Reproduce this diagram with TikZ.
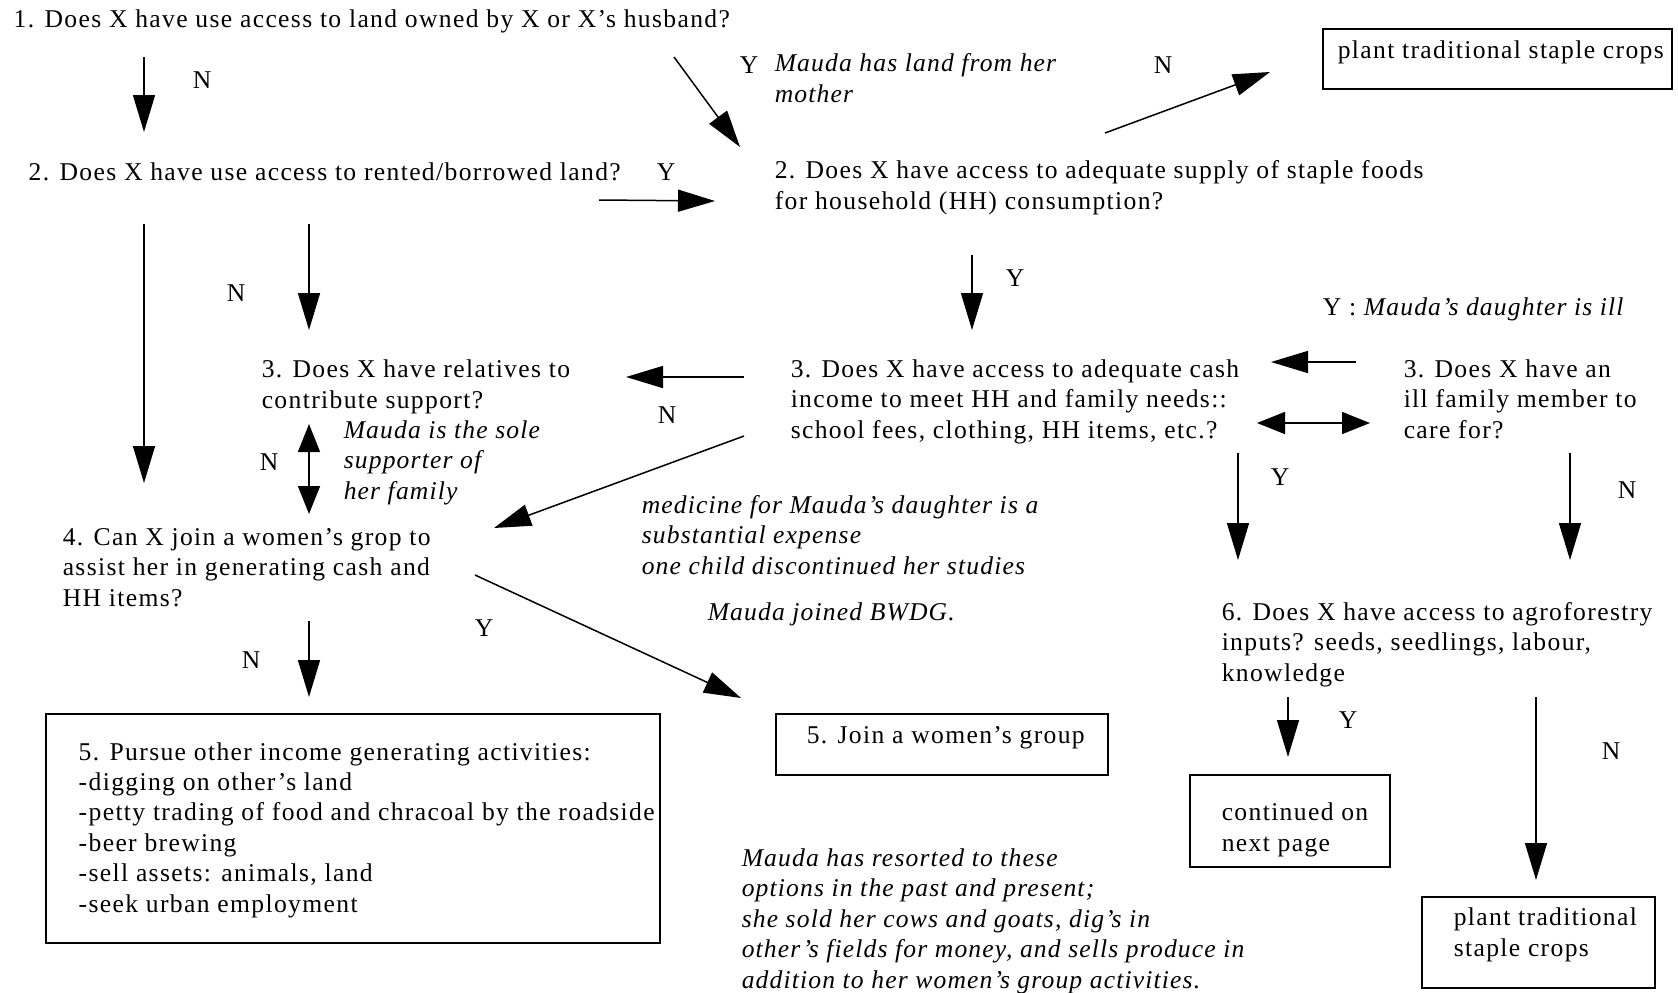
\documentclass[tikz,border=0pt]{standalone}
\usepackage{fontspec}
\setmainfont{Liberation Serif}[LetterSpace=5.3, ItalicFeatures={LetterSpace=4.5}]
\usetikzlibrary{arrows.meta}

\begin{document}
\begin{tikzpicture}[x=0.5pt, y=-0.5pt, line width=0.75pt,
    every node/.style={font=\fontsize{12.8}{15.2}\selectfont, inner sep=0pt},
    txt/.style={anchor=base west, align=left},
    note/.style={txt, font=\fontsize{12.8}{15.2}\selectfont\itshape},
    box/.style={draw, line width=1pt, anchor=north west},
    arr/.style={-{Triangle[length=18.5pt, width=11pt]}},
    darr/.style={{Triangle[length=14pt, width=11pt]}-{Triangle[length=14pt, width=11pt]}}]
  \useasboundingbox (0,0) rectangle (1678,992);

  % Draw the questions (multi-line texts sit on their last line)
  \node[txt] (q1) at (13,27) {1. Does X have use access to land owned by X or X's husband?};
  \node[txt] (q2left) at (28,180) {2. Does X have use access to rented/borrowed land?};
  \node[txt] (q2food) at (774,209) {2. Does X have access to adequate supply of staple foods\\for household (HH) consumption?};
  \node[txt] (q3rel) at (261,408) {3. Does X have relatives to\\contribute support?};
  \node[txt] (q3cash) at (790,438) {3. Does X have access to adequate cash\\income to meet HH and family needs::\\school fees, clothing, HH items, etc.?};
  \node[txt] (q3ill) at (1403,438) {3. Does X have an\\ill family member to\\care for?};
  \node[txt] (q4) at (62,606) {4. Can X join a women's grop to\\assist her in generating cash and\\HH items?};
  \node[txt] (q6) at (1221,681) {6. Does X have access to agroforestry\\inputs? seeds, seedlings, labour,\\knowledge};

  % Draw the boxes
  \node[box, minimum width=174.5pt, minimum height=30pt] (plantA) at (1322,28) {};
  \node[txt] (plantAtext) at (1337,58) {plant traditional staple crops};
  \node[box, minimum width=307pt, minimum height=114.5pt] (pursue) at (45,713) {};
  \node[txt] (pursuetext) at (78,912) {5. Pursue other income generating activities:\\-digging on other's land\\-petty trading of food and chracoal by the roadside\\-beer brewing\\-sell assets: animals, land\\-seek urban employment};
  \node[box, minimum width=166pt, minimum height=30.5pt] (join) at (775,713) {};
  \node[txt] (jointext) at (806,743) {5. Join a women's group};
  \node[box, minimum width=100pt, minimum height=46pt] (cont) at (1189,774) {};
  \node[txt] (conttext) at (1221,851) {continued on\\next page};
  \node[box, minimum width=116.5pt, minimum height=45.5pt] (plantB) at (1421,896) {};
  \node[txt] (plantBtext) at (1453,956) {plant traditional\\staple crops};

  % Draw the notes on Mauda
  \node[note] (noteland) at (774,102) {Mauda has land from her\\mother};
  \node[txt] (noteill) at (1322,315) {Y : \textit{Mauda's daughter is ill}};
  \node[note] (notesole) at (343,499) {Mauda is the sole\\supporter of\\her family};
  \node[note] (notemed) at (641,574) {medicine for Mauda's daughter is a\\substantial expense\\one child discontinued her studies};
  \node[note] (notebwdg) at (707,620) {Mauda joined BWDG.};
  \node[note] (noteres) at (741,988) {Mauda has resorted to these\\options in the past and present;\\she sold her cows and goats, dig's in\\other's fields for money, and sells produce in\\addition to her women's group activities.};

  % Y and N labels
  \node (lN1) at (202,80) {N};
  \node (lY1) at (749,65) {Y};
  \node (lN2) at (1163,65) {N};
  \node (lY2) at (666,172) {Y};
  \node (lY3) at (1015,278) {Y};
  \node (lN3) at (236,293) {N};
  \node (lN4) at (667,415) {N};
  \node (lN5) at (269,462) {N};
  \node (lY4) at (1280,477) {Y};
  \node (lN6) at (1627,490) {N};
  \node (lY5) at (484,628) {Y};
  \node (lN7) at (251,660) {N};
  \node (lY6) at (1348,720) {Y};
  \node (lN8) at (1611,751) {N};

  % Arrow end points
  \coordinate (n1a) at (144,57);   \coordinate (n1b) at (144,132);
  \coordinate (y1a) at (674,57);   \coordinate (y1b) at (740,147);
  \coordinate (n2a) at (1105,133); \coordinate (n2b) at (1270,72);
  \coordinate (y2a) at (599,200);  \coordinate (y2b) at (715,201);
  \coordinate (y3a) at (972,255);  \coordinate (y3b) at (972,330);
  \coordinate (n3a) at (144,224);  \coordinate (n3b) at (144,483);
  \coordinate (n4a) at (309,224);  \coordinate (n4b) at (309,330);
  \coordinate (n5a) at (744,377);  \coordinate (n5b) at (626,377);
  \coordinate (y4a) at (1356,362); \coordinate (y4b) at (1271,362);
  \coordinate (c1a) at (1257,423); \coordinate (c1b) at (1370,423);
  \coordinate (c2a) at (309,424);  \coordinate (c2b) at (309,514);
  \coordinate (n6a) at (744,436);  \coordinate (n6b) at (494,528);
  \coordinate (y5a) at (1238,453); \coordinate (y5b) at (1238,560);
  \coordinate (n7a) at (1570,453); \coordinate (n7b) at (1570,560);
  \coordinate (n8a) at (309,621);  \coordinate (n8b) at (309,697);
  \coordinate (y6a) at (475,575);  \coordinate (y6b) at (741,698);
  \coordinate (y7a) at (1288,697); \coordinate (y7b) at (1288,757);
  \coordinate (n9a) at (1536,697); \coordinate (n9b) at (1536,880);

  % Draw the arrows
  \draw[arr] (n1a) -- (n1b);
  \draw[arr] (y1a) -- (y1b);
  \draw[arr] (n2a) -- (n2b);
  \draw[arr] (y2a) -- (y2b);
  \draw[arr] (y3a) -- (y3b);
  \draw[arr] (n3a) -- (n3b);
  \draw[arr] (n4a) -- (n4b);
  \draw[arr] (n5a) -- (n5b);
  \draw[arr] (y4a) -- (y4b);
  \draw[darr] (c1a) -- (c1b);
  \draw[darr] (c2a) -- (c2b);
  \draw[arr] (n6a) -- (n6b);
  \draw[arr] (y5a) -- (y5b);
  \draw[arr] (n7a) -- (n7b);
  \draw[arr] (n8a) -- (n8b);
  \draw[arr] (y6a) -- (y6b);
  \draw[arr] (y7a) -- (y7b);
  \draw[arr] (n9a) -- (n9b);
\end{tikzpicture}
\end{document}
